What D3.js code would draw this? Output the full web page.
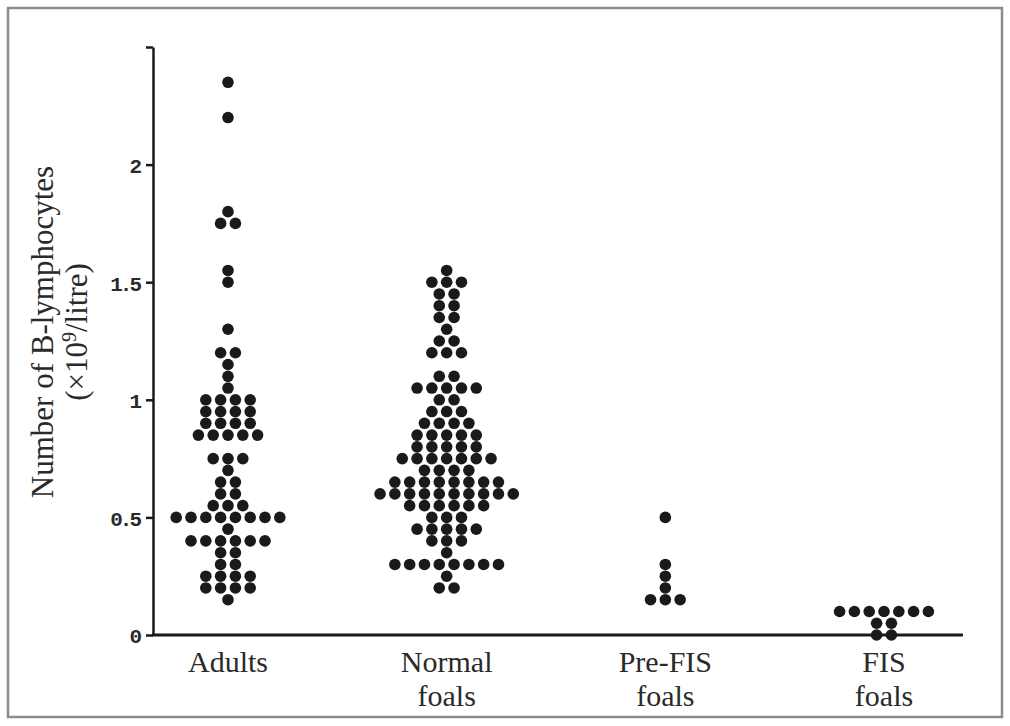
<!DOCTYPE html>
<html>
<head>
<meta charset="utf-8">
<script src="https://cdn.jsdelivr.net/npm/d3@7"></script>
<style>
  html, body { margin: 0; padding: 0; background: #ffffff; }
  svg { display: block; }
</style>
</head>
<body>
<svg id="chart" width="1010" height="726"></svg>
<script>
// B-lymphocyte counts (x10^9/litre): each level is a value, each count is the
// number of animals recorded at that value.
const categories = ["Adults", "Normal foals", "Pre-FIS foals", "FIS foals"];
const categoryLines = [["Adults"], ["Normal", "foals"], ["Pre-FIS", "foals"], ["FIS", "foals"]];

const adultsLevels = [2.35, 2.2, 1.8, 1.75, 1.55, 1.5, 1.3, 1.2, 1.15, 1.1, 1.05, 1.0, 0.95, 0.9, 0.85,
                      0.75, 0.7, 0.65, 0.6, 0.55, 0.5, 0.45, 0.4, 0.35, 0.3, 0.25, 0.2, 0.15];
const adultsCounts = [1, 1, 1, 2, 1, 1, 1, 2, 1, 1, 1, 4, 4, 4, 5,
                      3, 1, 2, 2, 3, 8, 1, 6, 2, 2, 4, 4, 1];

const normalLevels = [1.55, 1.5, 1.45, 1.4, 1.35, 1.3, 1.25, 1.2, 1.1, 1.05, 1.0, 0.95, 0.9, 0.85,
                      0.8, 0.75, 0.7, 0.65, 0.6, 0.55, 0.5, 0.45, 0.4, 0.35, 0.3, 0.25, 0.2];
const normalCounts = [1, 3, 2, 2, 2, 1, 2, 3, 2, 5, 2, 3, 4, 5,
                      5, 7, 4, 8, 10, 6, 3, 5, 3, 1, 8, 1, 2];

const preFisLevels = [0.5, 0.3, 0.25, 0.2, 0.15];
const preFisCounts = [1, 1, 1, 1, 3];

const fisLevels = [0.1, 0.05, 0.0];
const fisCounts = [7, 2, 2];

const yTicks = [0, 0.5, 1, 1.5, 2];
const yTickLabels = ["0", "0.5", "1", "1.5", "2"];

const groups = [
  { name: categories[0], levels: adultsLevels, counts: adultsCounts },
  { name: categories[1], levels: normalLevels, counts: normalCounts },
  { name: categories[2], levels: preFisLevels, counts: preFisCounts },
  { name: categories[3], levels: fisLevels, counts: fisCounts }
];

const svg = d3.select("#chart");
const W = 1010, H = 726;

// Outer frame
svg.append("rect")
  .attr("x", 8).attr("y", 8)
  .attr("width", W - 16).attr("height", H - 17)
  .attr("fill", "#ffffff")
  .attr("stroke", "#8c8c8c")
  .attr("stroke-width", 2.5);

const plot = { left: 153, right: 963, top: 47, bottom: 635 };

const x = d3.scalePoint()
  .domain(categories)
  .range([228, 884]);

const y = d3.scaleLinear()
  .domain([0, 2.5])
  .range([plot.bottom, plot.top]);

const ink = "#1a1a1a";
const dotR = 5.8;
const dotGap = 14.8;

// Beeswarm-style rows: dots sharing a value sit side by side, centred on the group
const dots = [];
groups.forEach(g => {
  g.levels.forEach((v, i) => {
    const n = g.counts[i];
    for (let k = 0; k < n; k++) {
      dots.push({ group: g.name, value: v, offset: k - (n - 1) / 2 });
    }
  });
});

svg.append("g")
  .selectAll("circle")
  .data(dots)
  .join("circle")
  .attr("cx", d => x(d.group) + d.offset * dotGap)
  .attr("cy", d => y(d.value))
  .attr("r", dotR)
  .attr("fill", ink);

// Y axis
const yAxis = svg.append("g")
  .attr("transform", `translate(${plot.left},0)`)
  .call(d3.axisLeft(y)
    .tickValues(yTicks.concat([2.5]))
    .tickFormat((d, i) => i < yTickLabels.length ? yTickLabels[i] : "")
    .tickSize(7)
    .tickSizeOuter(0)
    .tickPadding(7));
yAxis.select(".domain").attr("stroke", ink).attr("stroke-width", 2.5);
yAxis.selectAll(".tick line").attr("stroke", ink).attr("stroke-width", 2.5);
yAxis.selectAll(".tick text")
  .attr("fill", "#2a2a2a")
  .attr("dy", "0.38em")
  .attr("font-family", "'Liberation Mono', 'DejaVu Sans Mono', monospace")
  .attr("font-weight", "bold")
  .attr("font-size", 21)
  .attr("letter-spacing", -3);

// X axis baseline
svg.append("line")
  .attr("x1", plot.left - 1).attr("x2", plot.right)
  .attr("y1", y(0)).attr("y2", y(0))
  .attr("stroke", ink)
  .attr("stroke-width", 3);

// Category labels
const labels = svg.append("g")
  .style("font-family", "'Liberation Serif', 'Times New Roman', serif")
  .style("font-size", "30px")
  .attr("fill", "#2a2a2a")
  .attr("text-anchor", "middle");
categories.forEach((c, i) => {
  categoryLines[i].forEach((line, j) => {
    labels.append("text")
      .attr("x", x(c))
      .attr("y", 672 + j * 34)
      .text(line);
  });
});

// Y axis title
const title = svg.append("g")
  .attr("transform", "translate(0,332) rotate(-90)")
  .style("font-family", "'Liberation Serif', 'Times New Roman', serif")
  .style("font-size", "31px")
  .attr("fill", "#2a2a2a")
  .attr("text-anchor", "middle");
title.append("text").attr("x", 0).attr("y", 53).text("Number of B-lymphocytes");
const sub = title.append("text").attr("x", 0).attr("y", 87);
sub.append("tspan").text("(×10");
sub.append("tspan").attr("dy", -11).style("font-size", "20px").text("9");
sub.append("tspan").attr("dy", 11).text("/litre)");
</script>
</body>
</html>
